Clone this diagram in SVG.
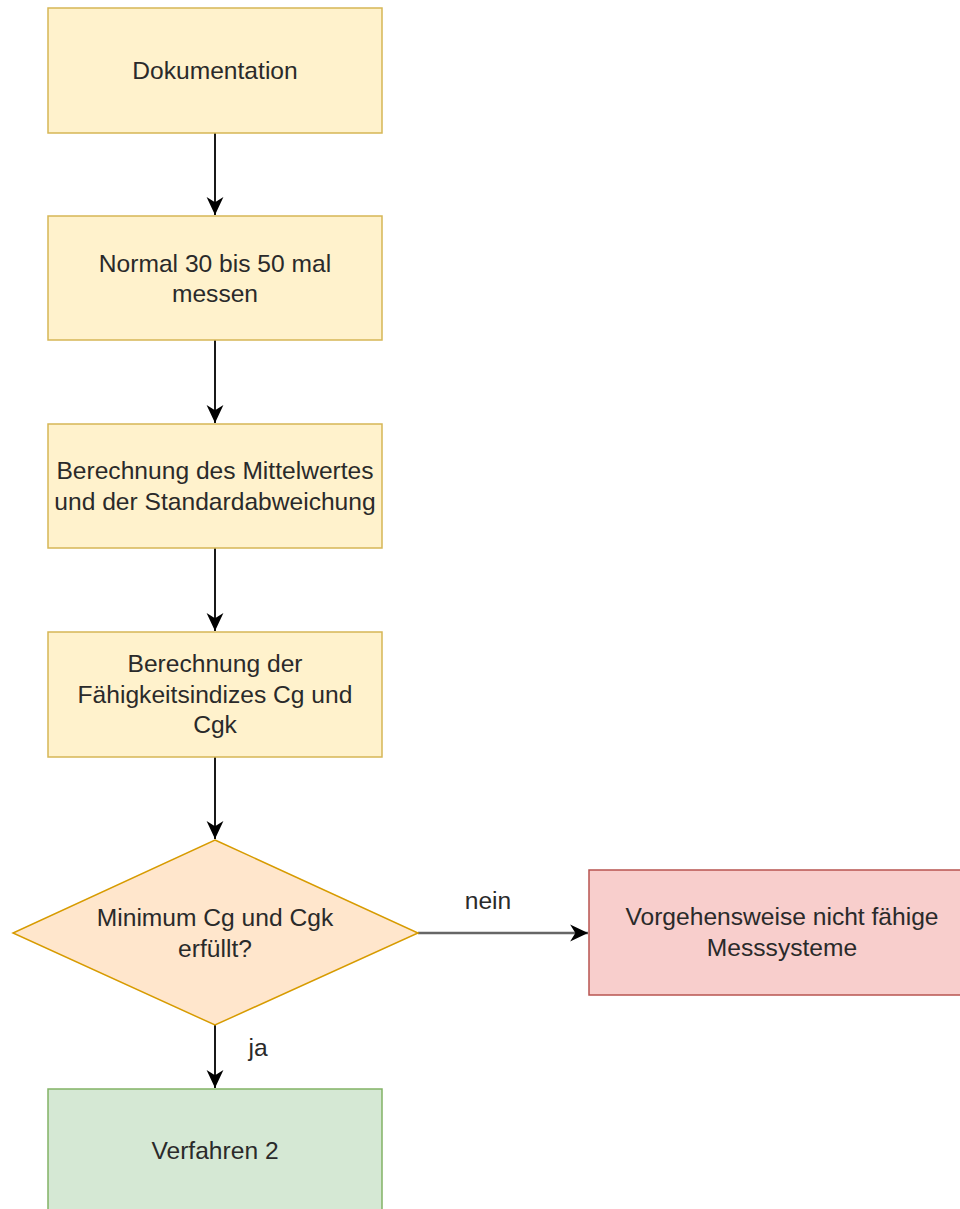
<svg xmlns="http://www.w3.org/2000/svg" width="960" height="1209" viewBox="0 0 960 1209">
<style>
.lbl{font-family:"Liberation Sans",Arial,sans-serif;font-size:24.6px;fill:#2a2a2a;text-anchor:middle}
.yel{fill:#fff2cc;stroke:#d6b656;stroke-width:1.5}
.dia{fill:#ffe6cc;stroke:#d79b00;stroke-width:1.5}
.red{fill:#f8cecc;stroke:#b85450;stroke-width:1.5}
.grn{fill:#d5e8d4;stroke:#82b366;stroke-width:1.5}
.edge{fill:none;stroke:#000;stroke-width:1.8}
.edge2{fill:none;stroke:#666;stroke-width:2.5}
</style>
<defs>
<marker id="ah" markerUnits="userSpaceOnUse" markerWidth="20" markerHeight="20" viewBox="-18 -9 19 18" refX="0" refY="0" orient="auto">
<path d="M0,0 L-17,-8 L-12,0 L-17,8 Z" fill="#000"/>
</marker>
</defs>
<rect width="960" height="1209" fill="#fff"/>
<g id="edges">
<line class="edge" x1="215" y1="133" x2="215" y2="215" marker-end="url(#ah)"/>
<line class="edge" x1="215" y1="340" x2="215" y2="423" marker-end="url(#ah)"/>
<line class="edge" x1="215" y1="548" x2="215" y2="631" marker-end="url(#ah)"/>
<line class="edge" x1="215" y1="757" x2="215" y2="839" marker-end="url(#ah)"/>
<line class="edge" x1="215" y1="1025" x2="215" y2="1088" marker-end="url(#ah)"/>
<line class="edge2" x1="418" y1="933" x2="588" y2="933" marker-end="url(#ah)"/>
<text class="lbl" x="488" y="909">nein</text>
<text class="lbl" x="258" y="1056">ja</text>
</g>
<g id="n1">
<rect class="yel" x="48" y="8" width="334" height="125"/>
<text class="lbl" x="215" y="79">Dokumentation</text>
</g>
<g id="n2">
<rect class="yel" x="48" y="216" width="334" height="124"/>
<text class="lbl" x="215" y="272">Normal 30 bis 50 mal</text>
<text class="lbl" x="215" y="302">messen</text>
</g>
<g id="n3">
<rect class="yel" x="48" y="424" width="334" height="124"/>
<text class="lbl" x="215" y="479">Berechnung des Mittelwertes</text>
<text class="lbl" x="215" y="510">und der Standardabweichung</text>
</g>
<g id="n4">
<rect class="yel" x="48" y="632" width="334" height="125"/>
<text class="lbl" x="215" y="672">Berechnung der</text>
<text class="lbl" x="215" y="703">Fähigkeitsindizes Cg und</text>
<text class="lbl" x="215" y="733">Cgk</text>
</g>
<g id="n5">
<polygon class="dia" points="215,840 418,933 215,1025 13,933"/>
<text class="lbl" x="215" y="926">Minimum Cg und Cgk</text>
<text class="lbl" x="215" y="957">erfüllt?</text>
</g>
<g id="n6">
<rect class="red" x="589" y="870" width="386" height="125"/>
<text class="lbl" x="782" y="925">Vorgehensweise nicht fähige</text>
<text class="lbl" x="782" y="956">Messsysteme</text>
</g>
<g id="n7">
<rect class="grn" x="48" y="1089" width="334" height="125"/>
<text class="lbl" x="215" y="1159">Verfahren 2</text>
</g>
</svg>
